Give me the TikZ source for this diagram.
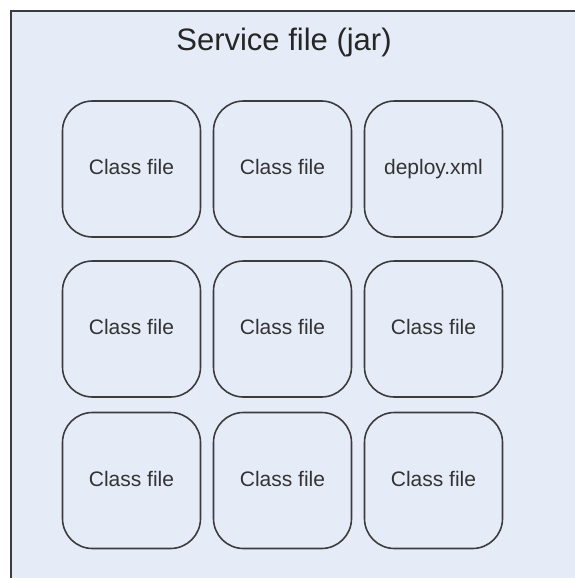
\documentclass[tikz,border=0pt]{standalone}
\usepackage{fontspec}
\setmainfont{Liberation Sans}
\usepackage{tikz}
\usepackage{xcolor}
\definecolor{jarbg}{RGB}{230,236,247}
\definecolor{jarline}{RGB}{60,60,62}

\begin{document}
\begin{tikzpicture}[x=1pt,y=-1pt,
 f/.style={draw=jarline,line width=1.6pt,rounded corners=30pt,fill=jarbg,minimum width=138pt,minimum height=136pt,text height=15pt,text depth=4pt,font=\fontsize{21}{25}\selectfont,text=black!80},
 t/.style={font=\fontsize{31}{36}\selectfont,text=black!85}]
 \useasboundingbox (0,0) rectangle (575,578);
 \fill[jarbg] (10.5,11) rectangle (575,578);
 \draw[jarline,line width=2pt] (10.5,578) -- (10.5,11) -- (575,11);
 \node[t] (title) at (284,42) {Service file (jar)};
 \node[f] (c1) at (131.5,169) {Class file};
 \node[f] (c2) at (282.5,169) {Class file};
 \node[f] (dx) at (433.5,169) {deploy.xml};
 \node[f] (c4) at (131.5,329) {Class file};
 \node[f] (c5) at (282.5,329) {Class file};
 \node[f] (c6) at (433.5,329) {Class file};
 \node[f] (c7) at (131.5,480.5) {Class file};
 \node[f] (c8) at (282.5,480.5) {Class file};
 \node[f] (c9) at (433.5,480.5) {Class file};
\end{tikzpicture}
\end{document}
